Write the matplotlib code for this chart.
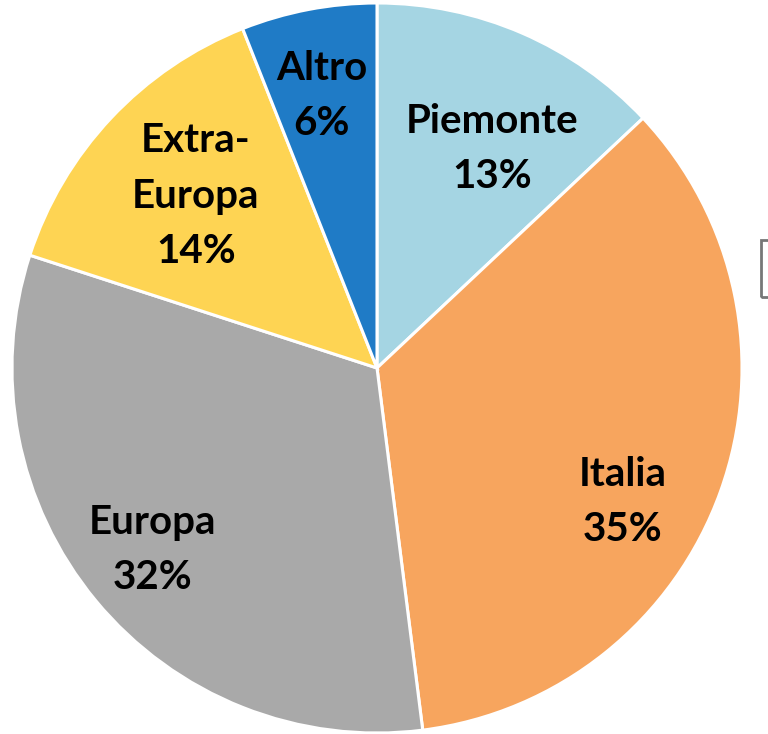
import matplotlib.pyplot as plt
from matplotlib.patches import Rectangle

# share of each area, clockwise from the top
labels = ['Piemonte', 'Italia', 'Europa', 'Extra-\nEuropa', 'Altro']
shares = [13, 35, 32, 14, 6]
colors = ['#A5D5E3', '#F7A55E', '#A9A9A9', '#FED453', '#1F7BC6']

# label centres in pie units (radius = 1)
label_pos = [(0.315, 0.600), (0.674, -0.367), (-0.614, -0.499),
             (-0.496, 0.471), (-0.151, 0.745)]

W, H = 768, 734
cx, cy, r = 377, 368, 365   # pie centre and radius in pixels

fig = plt.figure(figsize=(W / 100, H / 100), dpi=100)
ax = fig.add_axes([0, 0, 1, 1])

ax.pie(shares, colors=colors, startangle=90, counterclock=False,
       wedgeprops=dict(edgecolor='white', linewidth=2.2))

for lab, val, (x, y) in zip(labels, shares, label_pos):
    ax.text(x, y, f'{lab}\n{val}%', ha='center', va='center',
            fontsize=29, fontweight='bold', family='Lato',
            linespacing=1.62, color='black')

ax.set_aspect('auto')
ax.set_xlim(-cx / r, (W - cx) / r)
ax.set_ylim(-(H - cy) / r, cy / r)
ax.axis('off')

# edge of the legend box, cut off at the right border
fig.patches.append(Rectangle((761 / W, 1 - 297 / H), 40 / W, 57 / H,
                             transform=fig.transFigure, fill=False,
                             edgecolor='#777777', linewidth=2))

fig.savefig('out.png', dpi=100, facecolor='white')
